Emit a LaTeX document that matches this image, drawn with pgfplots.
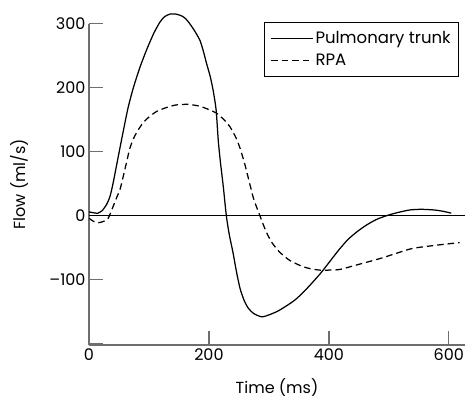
\documentclass[border=0pt]{standalone}
\usepackage{pgfplots}
\pgfplotsset{compat=1.18}
\usepackage{fontspec}
\setmainfont{Poppins}
\definecolor{axgray}{HTML}{6E6E6E}
\pgfplotstableread{
x y
0 6
8 4.5
15 4
22 8
29 17
35 30
40 50
45 74
55 122
65 168
74 200
85 232
96 259
108 285
118 302
126 311
135 315
145 315
155 312
162 307
168 300
176 289
185 274
191 256
196 238
202 218
207 196
212 165
215.5 118
219 85
224 45
229 0
234 -30
240 -57
246 -88
252 -114
259 -133
266 -145
275 -153
288 -158
300 -155
315 -149
329 -141
343 -132
357 -120
372 -105
387 -89
402 -71
417 -53
432 -37
447 -25
462 -15
479 -6
496 0
515 5
535 9
554 10
575 9
590 7
604 4
}\trunk
\pgfplotstableread{
x y
0 -4
8 -9
15 -11
24 -9
32 -4
40 14
46 28
52 42
58 65
63 85
68 105
74 120
80 131
90 145
101 155
113 163
129 169
145 173
165 174
185 171
202 165
213 160
225 150
235 139
245 122
252 105
260 80
268 50
275 25
285 0
295 -24
305 -42
318 -57
335 -70
355 -79
370 -83
385 -85
400 -85
418 -84
450 -76
485 -67
515 -58
540 -51
580 -46
618 -42
}\rpa
\begin{document}
\begin{tikzpicture}
\useasboundingbox (-89bp,-54bp) rectangle (378bp,345bp);
\begin{axis}[
  at={(0,0)}, anchor=south west,
  scale only axis,
  width=376bp, height=321.3bp,
  xmin=0, xmax=627, ymin=-202, ymax=300,
  axis x line*=bottom, axis y line*=left,
  axis line style={axgray, line width=1.3bp},
  every tick/.style={axgray, line width=1.3bp},
  tick align=inside,
  major tick length=14bp,
  xtick={0,200,400,600},
  ytick={-200,-100,0,100,200,300},
  yticklabels={,–100,0,100,200,300},
  /pgf/number format/assume math mode=true,
  tick label style={font=\fontsize{16bp}{19bp}\selectfont},
  label style={font=\fontsize{16bp}{19bp}\selectfont},
  xlabel={Time (ms)}, ylabel={Flow (ml/s)},
  xlabel style={at={(axis description cs:0.5,-0.132)}, anchor=center},
  ylabel style={at={(axis description cs:-0.186,0.5)}, anchor=center},
  legend style={at={(rel axis cs:0.984,1.004)}, anchor=north east,
    draw=black, line width=0.7bp, font=\fontsize{16.5bp}{19bp}\selectfont,
    legend cell align=left, inner xsep=6bp, inner ysep=7bp, row sep=5bp},
  legend image code/.code={\draw[#1, line width=1.1bp] (0bp,0bp) -- (42bp,0bp);},
  clip=false,
]
\addplot[black, line width=0.8bp, forget plot] coordinates {(0,0) (627,0)};
\addplot[black, line width=1.25bp, smooth, tension=0.4] table[x=x,y=y] {\trunk};
\addlegendentry{Pulmonary trunk}
\addplot[black, line width=1.25bp, smooth, tension=0.4, dash pattern=on 6.5bp off 4bp] table[x=x,y=y] {\rpa};
\addlegendentry{RPA}
\end{axis}
\end{tikzpicture}
\end{document}
